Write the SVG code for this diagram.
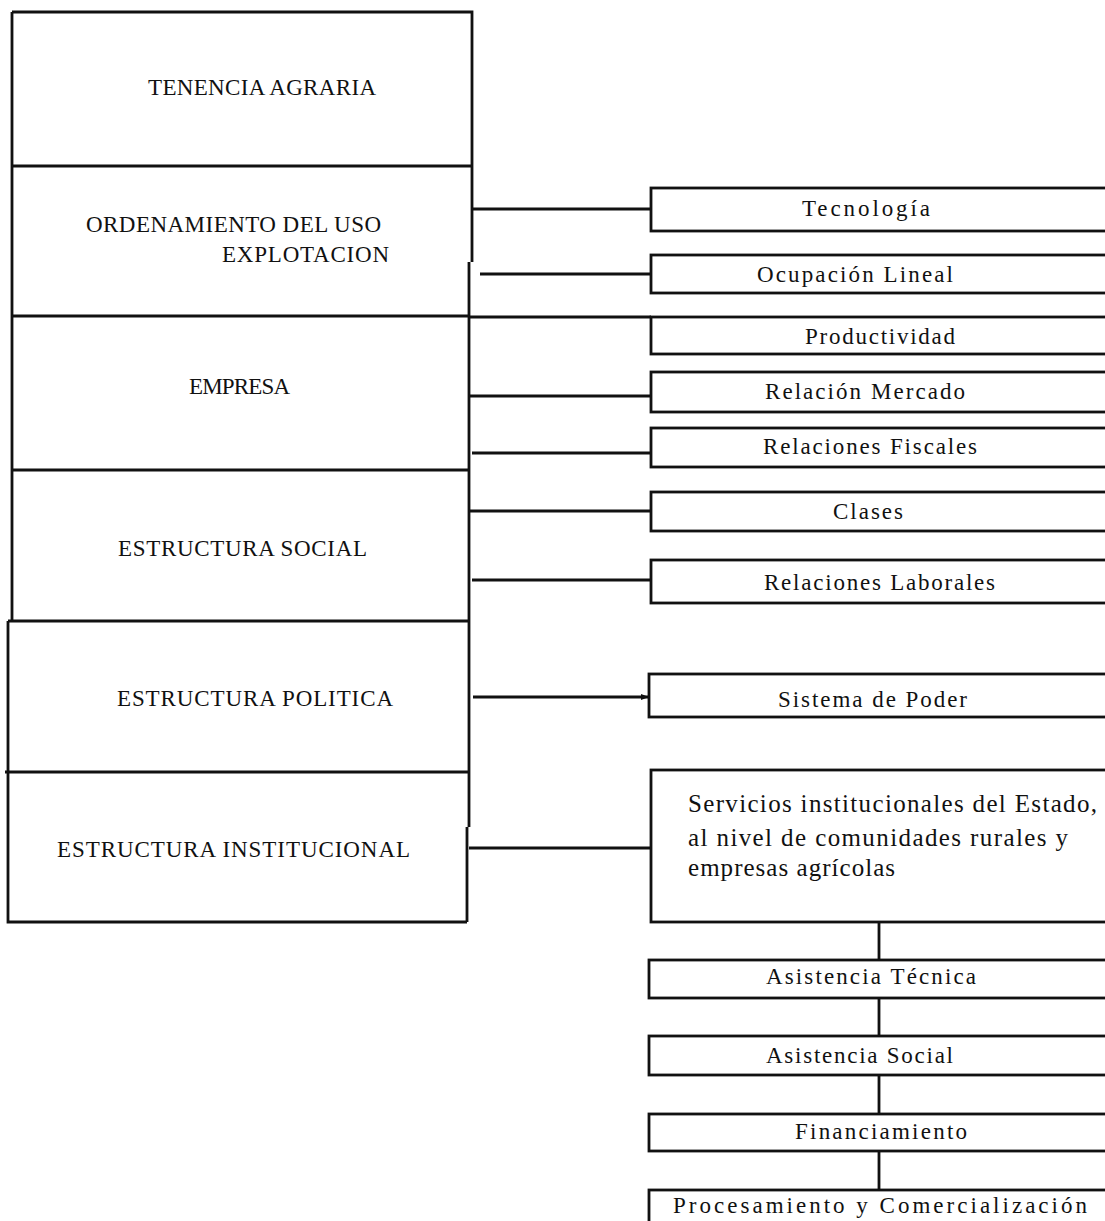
<svg xmlns="http://www.w3.org/2000/svg" width="1105" height="1221" viewBox="0 0 1105 1221">
<style>
  .ln{stroke:#111;stroke-width:2.8;fill:none}
  .bx{stroke:#111;stroke-width:2.8;fill:#fff}
  .t{font-family:"Liberation Serif","Times New Roman",serif;fill:#111}
  .L{font-size:23px}
  .R{font-size:23px}
  .S{font-size:25px}
</style>
<defs>
  <marker id="arr" markerWidth="8" markerHeight="8" refX="7" refY="4" orient="auto" markerUnits="userSpaceOnUse">
    <path d="M0,1 L8,4 L0,7 Z" fill="#111"/>
  </marker>
</defs>
<rect width="1105" height="1221" fill="#fff"/>

<g id="left-frame">
  <path class="ln" d="M12,12 H472 V262 M12,12 V621 M8,621 V922 H467 M469,262 V827 M467,827 V922"/>
</g>
<g id="n-tenencia">
  <text class="t L" x="148" y="95" textLength="228" lengthAdjust="spacing">TENENCIA AGRARIA</text>
</g>
<g id="n-ordenamiento">
  <line class="ln" x1="12" y1="166" x2="472" y2="166"/>
  <text class="t L" x="86" y="232" textLength="295" lengthAdjust="spacing">ORDENAMIENTO DEL USO</text>
  <text class="t L" x="222" y="262" textLength="167" lengthAdjust="spacing">EXPLOTACION</text>
</g>
<g id="n-empresa">
  <line class="ln" x1="12" y1="316" x2="469" y2="316"/>
  <text class="t L" x="189" y="394" textLength="101" lengthAdjust="spacing">EMPRESA</text>
</g>
<g id="n-social">
  <line class="ln" x1="12" y1="470" x2="469" y2="470"/>
  <text class="t L" x="118" y="556" textLength="249" lengthAdjust="spacing">ESTRUCTURA SOCIAL</text>
</g>
<g id="n-politica">
  <line class="ln" x1="8" y1="621" x2="469" y2="621"/>
  <text class="t L" x="117" y="706" textLength="276" lengthAdjust="spacing">ESTRUCTURA POLITICA</text>
</g>
<g id="n-institucional">
  <line class="ln" x1="5" y1="772" x2="469" y2="772"/>
  <text class="t L" x="57" y="857" textLength="353" lengthAdjust="spacing">ESTRUCTURA INSTITUCIONAL</text>
</g>

<g id="connectors">
  <line class="ln" x1="472" y1="209" x2="651" y2="209"/>
  <line class="ln" x1="480" y1="274" x2="651" y2="274"/>
  <line class="ln" x1="469" y1="317" x2="651" y2="317"/>
  <line class="ln" x1="469" y1="396" x2="651" y2="396"/>
  <line class="ln" x1="472" y1="453" x2="651" y2="453"/>
  <line class="ln" x1="469" y1="511" x2="651" y2="511"/>
  <line class="ln" x1="472" y1="580" x2="651" y2="580"/>
  <line class="ln" x1="473" y1="697" x2="648" y2="697" marker-end="url(#arr)"/>
  <line class="ln" x1="469" y1="848" x2="651" y2="848"/>
  <line class="ln" x1="879" y1="922" x2="879" y2="960"/>
  <line class="ln" x1="879" y1="998" x2="879" y2="1036"/>
  <line class="ln" x1="879" y1="1075" x2="879" y2="1114"/>
  <line class="ln" x1="879" y1="1151" x2="879" y2="1190"/>
</g>

<g id="n-tecnologia">
  <rect class="bx" x="651" y="188" width="470" height="43"/>
  <text class="t R" x="802" y="216" textLength="128" lengthAdjust="spacing">Tecnología</text>
</g>
<g id="n-ocupacion">
  <rect class="bx" x="651" y="255" width="470" height="38"/>
  <text class="t R" x="757" y="282" textLength="196" lengthAdjust="spacing">Ocupación Lineal</text>
</g>
<g id="n-productividad">
  <rect class="bx" x="651" y="317" width="470" height="37"/>
  <text class="t R" x="805" y="344" textLength="150" lengthAdjust="spacing">Productividad</text>
</g>
<g id="n-mercado">
  <rect class="bx" x="651" y="372" width="470" height="40"/>
  <text class="t R" x="765" y="399" textLength="200" lengthAdjust="spacing">Relación Mercado</text>
</g>
<g id="n-fiscales">
  <rect class="bx" x="651" y="428" width="470" height="39"/>
  <text class="t R" x="763" y="454" textLength="214" lengthAdjust="spacing">Relaciones Fiscales</text>
</g>
<g id="n-clases">
  <rect class="bx" x="651" y="492" width="470" height="39"/>
  <text class="t R" x="833" y="519" textLength="70" lengthAdjust="spacing">Clases</text>
</g>
<g id="n-laborales">
  <rect class="bx" x="651" y="560" width="470" height="43"/>
  <text class="t R" x="764" y="590" textLength="231" lengthAdjust="spacing">Relaciones Laborales</text>
</g>
<g id="n-poder">
  <rect class="bx" x="649" y="674" width="470" height="43"/>
  <text class="t R" x="778" y="707" textLength="189" lengthAdjust="spacing">Sistema de Poder</text>
</g>
<g id="n-servicios">
  <rect class="bx" x="651" y="770" width="470" height="152"/>
  <text class="t S" x="688" y="812" textLength="409" lengthAdjust="spacing">Servicios institucionales del Estado,</text>
  <text class="t S" x="688" y="846" textLength="380" lengthAdjust="spacing">al nivel de comunidades rurales  y</text>
  <text class="t S" x="688" y="876" textLength="207" lengthAdjust="spacing">empresas agrícolas</text>
</g>
<g id="n-tecnica">
  <rect class="bx" x="649" y="960" width="470" height="38"/>
  <text class="t R" x="766" y="984" textLength="210" lengthAdjust="spacing">Asistencia Técnica</text>
</g>
<g id="n-social-asist">
  <rect class="bx" x="649" y="1036" width="470" height="39"/>
  <text class="t R" x="766" y="1063" textLength="187" lengthAdjust="spacing">Asistencia Social</text>
</g>
<g id="n-financiamiento">
  <rect class="bx" x="649" y="1114" width="470" height="37"/>
  <text class="t R" x="795" y="1139" textLength="172" lengthAdjust="spacing">Financiamiento</text>
</g>
<g id="n-procesamiento">
  <rect class="bx" x="649" y="1190" width="470" height="40"/>
  <text class="t R" x="673" y="1213" textLength="414" lengthAdjust="spacing">Procesamiento y Comercialización</text>
</g>
</svg>
